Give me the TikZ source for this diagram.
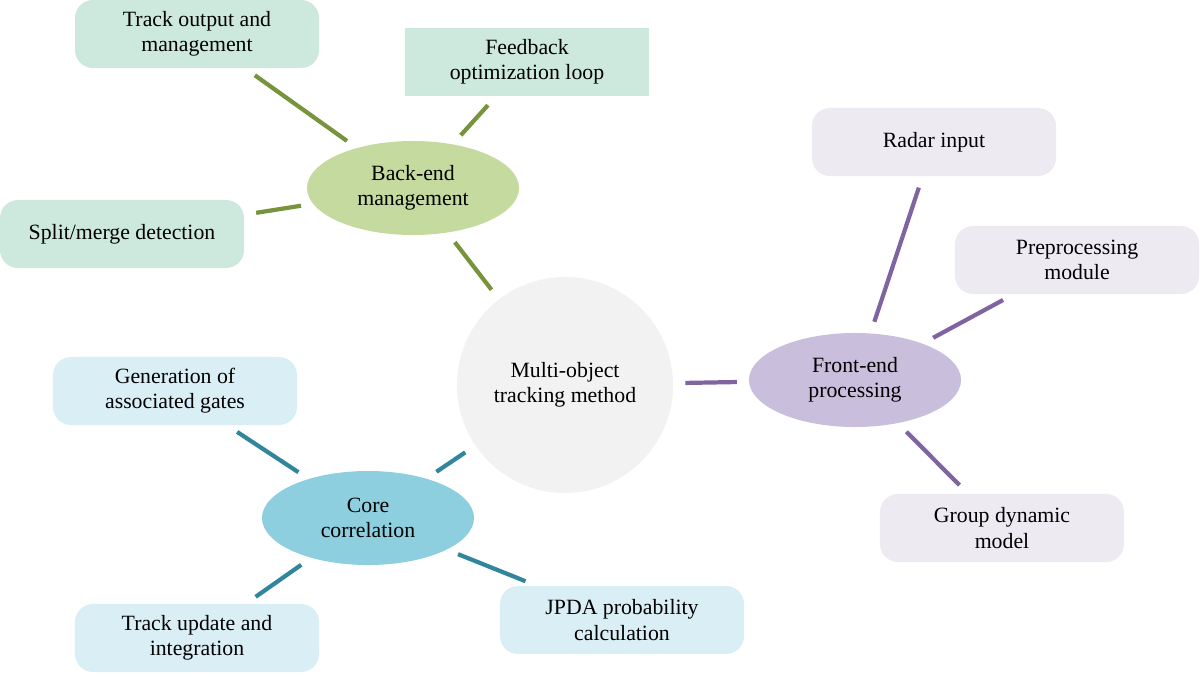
\documentclass[tikz,border=0pt]{standalone}
\usepackage{fontspec}
\setmainfont{Liberation Serif}
\begin{document}
\begin{tikzpicture}[x=0.025cm,y=-0.025cm,
 every node/.style={font=\fontsize{15.5}{18}\selectfont, align=center, inner sep=0pt},
 box/.style={rounded corners=0.45cm, minimum width=6.1cm, minimum height=1.7cm},
 ell/.style={ellipse, minimum width=5.3cm, minimum height=2.35cm},
 lk/.style={line width=3pt, shorten >=0.3cm, shorten <=0.3cm},
 gl/.style={lk, draw=lgreen}, pl/.style={lk, draw=lpurple}, tl/.style={lk, draw=lteal}]
\usetikzlibrary{shapes.geometric}
\definecolor{lgreen}{HTML}{77933C}\definecolor{lpurple}{HTML}{8064A2}\definecolor{lteal}{HTML}{31859C}
\definecolor{fgreen}{HTML}{CDE9DE}\definecolor{fpurple}{HTML}{EEEAF2}\definecolor{fblue}{HTML}{DAEEF5}
\useasboundingbox (0,0) rectangle (1200,676);
\node[circle, fill=black!5, minimum size=5.4cm] (c) at (565,385) {Multi-object\\tracking method};
\node[ell, fill={rgb,255:red,197;green,218;blue,159}] (b) at (413,188) {Back-end\\management};
\node[ell, fill={rgb,255:red,201;green,190;blue,219}] (f) at (855,380) {Front-end\\processing};
\node[ell, fill={rgb,255:red,142;green,207;blue,223}] (k) at (368,518) {Core\\correlation};
\node[box, fill=fgreen] (b1) at (197,34) {Track output and\\management};
\node[box, rounded corners=0, fill=fgreen] (b2) at (527,62) {Feedback\\optimization loop};
\node[box, fill=fgreen] (b3) at (122,234) {Split/merge detection};
\node[box, fill=fpurple] (f1) at (934,142) {Radar input};
\node[box, fill=fpurple] (f2) at (1077,260) {Preprocessing\\module};
\node[box, fill=fpurple] (f3) at (1002,528) {Group dynamic\\model};
\node[box, fill=fblue] (k1) at (175,391) {Generation of\\associated gates};
\node[box, fill=fblue] (k2) at (197,638) {Track update and\\integration};
\node[box, fill=fblue] (k3) at (622,620) {JPDA probability\\calculation};
\draw[gl] (b) -- (c); \draw[gl] (b) -- (b1); \draw[gl] (b) -- (b2); \draw[gl] (b) -- (b3);
\draw[pl] (c) -- (f); \draw[pl] (f) -- (f1); \draw[pl] (f) -- (f2); \draw[pl] (f) -- (f3);
\draw[tl] (c) -- (k); \draw[tl] (k) -- (k1); \draw[tl] (k) -- (k2); \draw[tl] (k) -- (k3);
\end{tikzpicture}
\end{document}
